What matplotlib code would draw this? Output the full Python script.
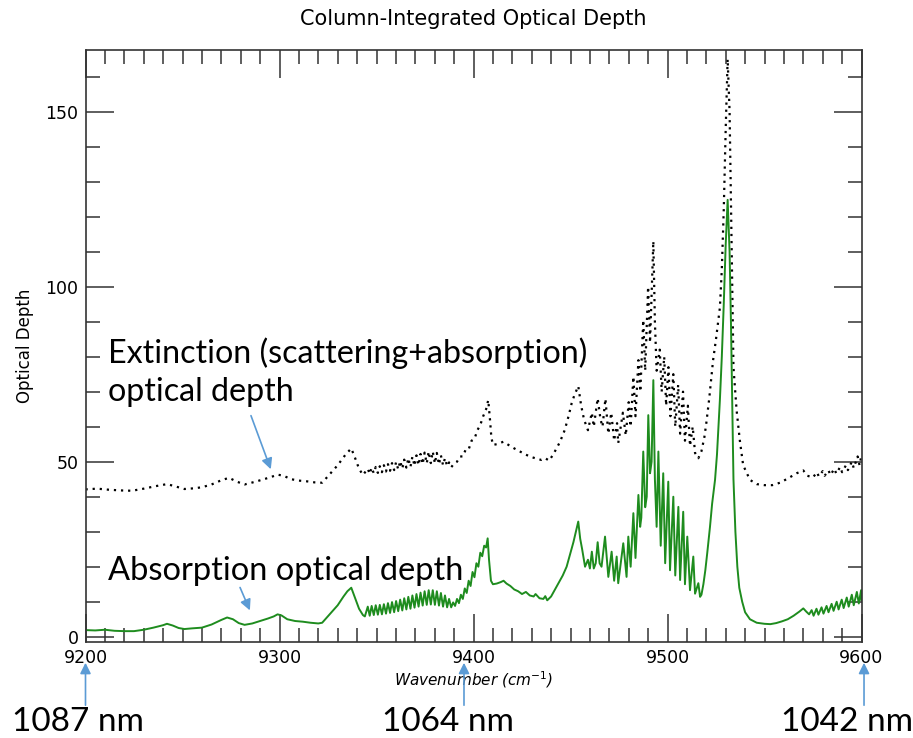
import matplotlib
matplotlib.use("Agg")
import matplotlib.pyplot as plt
from matplotlib.ticker import MultipleLocator

# absorption optical depth (green, solid)
abs_wn = [9200, 9205, 9210, 9215, 9220, 9225, 9230, 9235, 9240, 9242, 9245, 9248, 9251, 9255, 9260,
          9265, 9270, 9273, 9276, 9279, 9282, 9286, 9290, 9294, 9297, 9299, 9301, 9304, 9308, 9312,
          9316, 9320, 9322, 9326, 9330, 9333, 9335, 9337, 9339, 9341, 9343, 9344,
          9345.5, 9346.5, 9347.5, 9348.6, 9349.6, 9350.7, 9351.7, 9352.8, 9353.8, 9354.9, 9355.9,
          9357.0, 9358.0, 9359.1, 9360.1, 9361.2, 9362.2, 9363.3, 9364.3, 9365.4, 9366.4, 9367.5,
          9368.5, 9369.6, 9370.6, 9371.7, 9372.7, 9373.8, 9374.8, 9375.9, 9376.9, 9378.0, 9379.0,
          9380.1, 9381.1, 9382.2, 9383.2, 9384.3, 9385.3, 9386.4, 9387.4, 9388.5,
          9389.5, 9390.5, 9391.5, 9392.5, 9393.5, 9394.5, 9395.5, 9396.5, 9397.5, 9398.5, 9399.5,
          9400.5, 9401.5, 9402.5, 9403.5, 9404.5, 9405.5, 9406.5, 9407.3, 9408.0, 9409.0, 9410.0,
          9412, 9414, 9415.5, 9417, 9419, 9421, 9423, 9425, 9427, 9429, 9431, 9432, 9434, 9436,
          9437, 9438, 9440, 9442, 9444, 9446, 9448, 9450, 9451.5, 9453, 9454, 9455, 9456, 9457.5,
          9459, 9460, 9461, 9462, 9463, 9464, 9465, 9466, 9467.8, 9469.5, 9471.2, 9472.5, 9473.8,
          9474.6, 9477.2, 9478.9, 9479.8, 9481, 9482.4, 9483.5, 9485, 9485.9, 9486.5, 9487.5,
          9488.5, 9489.3, 9490.1, 9491, 9491.8, 9492.7, 9493.5, 9494.4, 9495.3, 9496.5, 9497.8,
          9498.8, 9500.4, 9501.3, 9503.0, 9504.0, 9505.6, 9506.5, 9508.1, 9509.0, 9510.2, 9511.6,
          9513.3, 9514.2, 9515.9, 9516.8, 9517.5, 9518.5, 9519.5, 9520.5, 9521.9, 9523, 9524.5,
          9525.5, 9527, 9528, 9529, 9530, 9531, 9532, 9532.7, 9533.4, 9534, 9535, 9536, 9537,
          9538.5, 9540, 9542.5, 9546, 9550, 9553, 9556, 9559, 9562, 9565, 9568, 9570, 9571.5,
          9573, 9574.3, 9575.3, 9576.8, 9577.8, 9579.4, 9580.4, 9582, 9583, 9584.6, 9585.6, 9587.2,
          9588.2, 9589.8, 9590.8, 9592.4, 9593.4, 9595, 9596, 9597.6, 9598.6, 9599.8, 9600]
abs_od = [1.9, 1.8, 2.0, 1.7, 1.6, 1.6, 2.0, 2.6, 3.3, 3.7, 3.2, 2.5, 2.2, 2.4, 2.6,
          3.5, 4.8, 5.5, 5.0, 3.9, 3.4, 3.8, 4.5, 5.2, 5.8, 6.4, 6.1, 5.0, 4.5, 4.3,
          4.0, 3.8, 4.0, 6.5, 9.0, 11.5, 13.0, 14.0, 11.0, 8.0, 6.2, 5.8,
          8.6, 6.0, 8.8, 6.2, 9.0, 6.3, 9.1, 6.4, 9.3, 6.6, 9.6,
          6.8, 9.9, 7.0, 10.2, 7.3, 10.6, 7.5, 11.0, 7.8, 11.4, 8.0,
          11.8, 8.3, 12.2, 8.6, 12.6, 8.9, 13.0, 9.1, 13.3, 9.2, 13.3,
          9.1, 13.0, 8.9, 12.5, 8.6, 11.8, 8.4, 10.8, 8.4,
          9.8, 8.8, 10.8, 9.6, 12.0, 10.8, 13.8, 12.5, 16.0, 14.5, 18.5,
          17.0, 21.0, 20.0, 24.0, 23.0, 26.0, 25.5, 28.1, 22.0, 16.0, 15.0,
          15.2, 15.6, 16.0, 15.2, 14.5, 13.5, 13.0, 12.2, 12.8, 11.8, 11.5, 12.2, 11.0, 10.8,
          11.6, 10.4, 11.5, 13.5, 15.5, 17.5, 20.0, 24.0, 27.0, 30.5, 32.9, 28.0, 25.0, 20.0,
          22.0, 19.5, 24.3, 19.5, 21.0, 27.0, 21.0, 20.0, 28.6, 17.1, 24.3, 16.0, 22.9,
          15.3, 26.7, 17.1, 28.6, 20.0, 35.3, 22.5, 40.5, 31.4, 34.0, 52.9,
          37.0, 40.0, 63.3, 46.7, 50.0, 73.3, 45.0, 31.4, 52.9, 26.0, 46.7,
          21.0, 44.3, 19.0, 40.0, 17.5, 37.1, 16.2, 35.7, 15.0, 28.6, 13.3,
          22.9, 12.3, 15.3, 11.4, 12.0, 15.0, 19.0, 24.0, 31.4, 38.0, 44.8,
          52.0, 67.6, 80.0, 95.0, 112.0, 124.8, 110.0, 90.0, 65.0, 45.0, 30.0, 20.0, 14.0,
          10.0, 7.0, 5.0, 4.0, 3.7, 3.6, 3.9, 4.4, 5.0, 6.0, 7.2, 8.1, 7.2,
          6.4, 7.6, 6.0, 8.0, 6.3, 8.4, 6.6, 8.8, 7.0, 9.4, 7.4, 10.0,
          7.8, 10.6, 8.2, 11.2, 8.6, 12.0, 9.0, 12.8, 9.5, 13.3, 10.5]

# extinction (scattering + absorption) optical depth (black, dotted)
ext_wn = [9200, 9206, 9212, 9218, 9224, 9230, 9236, 9242, 9246, 9251, 9256, 9260, 9265, 9270, 9274,
          9278, 9282, 9287, 9292, 9296, 9299, 9302, 9306, 9310, 9314, 9318, 9322, 9326, 9330, 9334,
          9337, 9339, 9341, 9343,
          9345.5, 9346.5, 9347.5, 9348.6, 9349.6, 9350.7, 9351.7, 9352.8, 9353.8, 9354.9, 9355.9,
          9357.0, 9358.0, 9359.1, 9360.1, 9361.2, 9362.2, 9363.3, 9364.3, 9365.4, 9366.4, 9367.5,
          9368.5, 9369.6, 9370.6, 9371.7, 9372.7, 9373.8, 9374.8, 9375.9, 9376.9, 9378.0, 9379.0,
          9380.1, 9381.1, 9382.2, 9383.2, 9384.3, 9385.3, 9386.4, 9387.4, 9388.5,
          9390, 9391.5, 9393, 9394.5, 9396, 9397.5, 9399, 9400.5, 9402, 9403.5, 9405, 9406.5,
          9407.6, 9408.5, 9409.2, 9410, 9412, 9415.4, 9418, 9421, 9424, 9427, 9430, 9433, 9435,
          9437, 9439, 9441, 9443, 9444.6, 9447, 9449, 9450.6, 9452, 9454, 9455.5, 9457, 9459,
          9461, 9462, 9464, 9465.5, 9466.5, 9468, 9469.5, 9471, 9472.5, 9474, 9474.6, 9477,
          9478.5, 9480, 9481, 9482.4, 9483.5, 9485, 9486, 9487.5, 9488.5, 9490, 9491, 9492.7,
          9493.5, 9494.4, 9496, 9497, 9498.3, 9499.3, 9500.5, 9501.5, 9503, 9504, 9505.5, 9506.5,
          9508, 9509, 9510.5, 9511.6, 9513, 9514.2, 9515.9, 9517.5, 9519, 9520, 9521.5, 9523.5,
          9525, 9527, 9528, 9529, 9530, 9531, 9532, 9532.7, 9533.4, 9534, 9535.6, 9537.3, 9539,
          9542.5, 9546, 9550, 9554, 9558, 9562, 9566.6, 9570, 9572, 9575, 9577, 9578, 9580, 9581,
          9583, 9584, 9586, 9587, 9589, 9590, 9592, 9593, 9595, 9596, 9598, 9599, 9600]
ext_od = [42.1, 42.3, 42.0, 41.8, 41.7, 42.3, 43.0, 43.6, 43.0, 42.2, 42.4, 42.7, 43.5, 44.7, 45.4,
          44.3, 43.5, 44.2, 45.0, 45.7, 46.3, 46.0, 45.0, 44.6, 44.4, 44.1, 44.0, 46.5, 49.0, 52.0,
          53.8, 51.0, 48.0, 46.2,
          48.0, 46.5, 48.3, 46.7, 48.5, 46.8, 48.7, 47.0, 49.0, 47.2, 49.3,
          47.4, 49.6, 47.6, 49.9, 47.8, 50.2, 48.0, 50.6, 48.3, 51.0, 48.5,
          51.4, 48.8, 51.8, 49.0, 52.2, 49.3, 52.6, 49.5, 52.9, 49.6, 52.9,
          49.5, 52.5, 49.2, 51.8, 49.0, 51.0, 48.7, 49.8, 48.4,
          49.5, 50.0, 51.5, 51.5, 53.5, 53.5, 56.0, 56.5, 59.0, 60.5, 63.0, 65.0,
          67.6, 62.0, 57.0, 54.8, 55.0, 55.7, 54.8, 53.8, 52.9, 52.0, 51.3, 50.8, 50.5,
          51.0, 50.3, 52.0, 54.0, 55.7, 59.0, 63.0, 66.7, 69.0, 71.6, 66.0, 62.0, 59.0,
          64.0, 60.0, 68.1, 62.0, 60.0, 68.0, 58.0, 64.0, 56.0, 61.0, 55.3, 64.0,
          57.5, 67.0, 60.0, 74.3, 63.0, 79.0, 70.0, 90.5, 76.0, 100.0, 84.0, 113.0,
          90.0, 76.0, 82.0, 70.0, 80.0, 66.0, 77.0, 63.0, 75.0, 60.0, 72.0, 58.0,
          70.0, 56.0, 66.0, 54.5, 60.0, 52.5, 51.0, 53.0, 57.0, 61.0, 68.0, 79.0,
          85.0, 94.0, 105.0, 122.0, 145.0, 165.0, 150.0, 125.0, 100.0, 77.0, 64.8, 56.0, 49.0,
          44.8, 43.6, 43.3, 43.3, 44.0, 45.2, 46.7, 47.5, 46.0, 45.5, 47.0, 45.8, 47.3, 46.0,
          47.5, 46.2, 48.0, 46.6, 48.5, 47.0, 49.0, 47.6, 50.0, 48.2, 51.5, 49.0, 52.0]

W, H = 913, 738
fig = plt.figure(figsize=(W / 100, H / 100), dpi=100)
ax = fig.add_axes([85.5 / W, 1 - 642 / H, 776 / W, 592 / H])

ax.plot(ext_wn, ext_od, color='black', lw=1.6, linestyle=(0, (1, 2.2)))
ax.plot(abs_wn, abs_od, color='#1e8c1e', lw=1.4)

ax.set_xlim(9200, 9600)
ax.set_ylim(-1.5, 167.6)
ax.xaxis.set_major_locator(MultipleLocator(100))
ax.xaxis.set_minor_locator(MultipleLocator(10))
ax.yaxis.set_major_locator(MultipleLocator(50))
ax.yaxis.set_minor_locator(MultipleLocator(10))
ax.tick_params(which='both', direction='in', top=True, right=True, width=1.1, color='#333333')
ax.tick_params(which='major', length=20, labelsize=12.5, pad=5)
ax.tick_params(which='minor', length=10)
for s in ax.spines.values():
    s.set_linewidth(1.2)
    s.set_color('#333333')

ax.set_title('Column-Integrated Optical Depth', fontsize=15, pad=18)
ax.set_xlabel(r'Wavenumber (cm$^{-1}$)', fontsize=11, style='italic', labelpad=2)
ax.set_ylabel('Optical Depth', fontsize=12, labelpad=8)

blue = '#5b9bd5'
big = dict(family='Lato', color='black')
fig.text(108 / W, 1 - 363 / H, 'Extinction (scattering+absorption)', fontsize=23.2, va='baseline', **big)
fig.text(108 / W, 1 - 401 / H, 'optical depth', fontsize=23.2, va='baseline', **big)
fig.text(108 / W, 1 - 580 / H, 'Absorption optical depth', fontsize=23.5, va='baseline', **big)
fig.text(78 / W, 1 - 731 / H, '1087 nm', fontsize=24, va='baseline', ha='center', **big)
fig.text(448 / W, 1 - 731 / H, '1064 nm', fontsize=24, va='baseline', ha='center', **big)
fig.text(847 / W, 1 - 731 / H, '1042 nm', fontsize=24, va='baseline', ha='center', **big)

arrow = dict(arrowstyle='-|>', color=blue, lw=1.2, mutation_scale=16)
ax.annotate('', xy=(9296, 47.1), xytext=(9284.8, 63.9), arrowprops=arrow)
ax.annotate('', xy=(9285.3, 6.8), xytext=(9279.1, 14.8), arrowprops=arrow)
for wn in [9200, 9395.1, 9601.3]:
    ax.annotate('', xy=(wn, 78), xytext=(wn, 30), xycoords=('data', 'figure pixels'),
                textcoords=('data', 'figure pixels'), arrowprops=arrow, annotation_clip=False)

fig.savefig('out.png', dpi=100)
